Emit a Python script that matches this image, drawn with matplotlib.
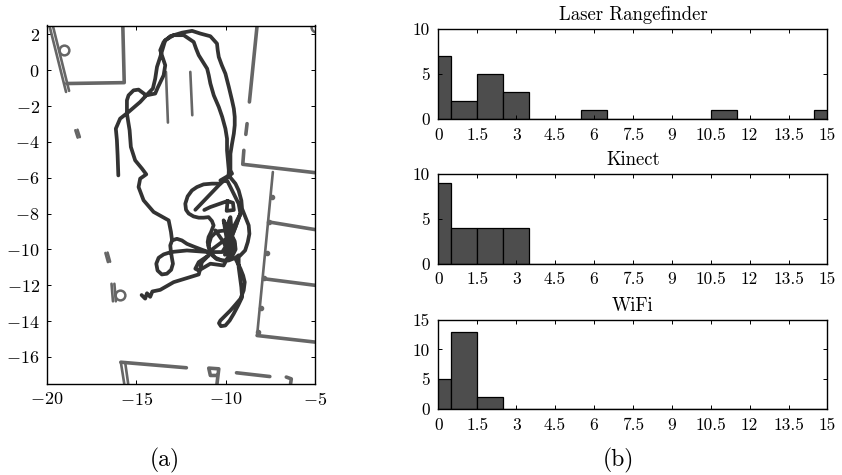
import matplotlib
matplotlib.use('Agg')
import matplotlib.pyplot as plt

plt.rcParams['font.family'] = ['cmr10', 'DejaVu Serif']
plt.rcParams['mathtext.fontset'] = 'cm'
plt.rcParams['axes.formatter.use_mathtext'] = True
plt.rcParams['axes.unicode_minus'] = False

# histogram counts, bins centred on 0..15
bins = list(range(16))
laser = [7, 2, 5, 3, 0, 0, 1, 0, 0, 0, 0, 1, 0, 0, 0, 1]
kinect = [9, 4, 4, 4, 0, 0, 0, 0, 0, 0, 0, 0, 0, 0, 0, 0]
wifi = [5, 13, 2, 0, 0, 0, 0, 0, 0, 0, 0, 0, 0, 0, 0, 0]
hist_ticks = [0, 1.5, 3, 4.5, 6, 7.5, 9, 10.5, 12, 13.5, 15]
hist_labels = ['0', '1.5', '3', '4.5', '6', '7.5', '9', '10.5', '12', '13.5', '15']

# robot track
track = [(-16.0, -5.87), (-16.02, -5.3), (-16.04, -4.75), (-16.08, -3.9), (-16.14, -3.26), (-15.9, -2.7),
         (-15.43, -2.33), (-14.78, -1.77), (-14.44, -1.4), (-13.94, -1.3), (-13.8, -0.97),
         (-13.47, -0.28), (-13.38, 0.28), (-13.66, 1.12), (-13.47, 1.58), (-13.1, 1.9),
         (-12.44, 2.1), (-11.88, 2.2), (-11.42, 2.05), (-10.86, 1.9), (-10.49, 1.49),
         (-10.45, 1.12), (-10.39, 0.74), (-10.22, 0.28), (-10.02, -0.19), (-9.83, -0.93),
         (-9.65, -1.68), (-9.55, -2.14), (-9.5, -2.6), (-9.5, -3.07), (-9.55, -3.54),
         (-9.65, -4.1), (-9.74, -4.66), (-9.74, -5.59), (-9.65, -5.77), (-10.3, -6.15),
         (-9.9, -6.2), (-9.56, -6.89), (-9.28, -7.45), (-9.18, -8.01), (-9.33, -8.38), (-9.46, -8.76),
         (-9.65, -9.22), (-9.84, -9.59), (-10.2, -10.15), (-10.96, -10.15), (-9.84, -9.31),
         (-9.74, -10.43), (-9.46, -10.52), (-9.18, -11.08), (-9.03, -11.46), (-8.94, -11.83),
         (-9.0, -12.29), (-9.18, -12.76), (-9.46, -13.09), (-9.74, -13.41), (-10.02, -13.69),
         (-10.3, -13.97), (-10.38, -14.12), (-10.27, -14.29), (-10.02, -14.25), (-9.78, -13.97),
         (-9.56, -13.6), (-9.31, -13.13), (-9.09, -12.67), (-9.13, -12.11), (-9.18, -11.73),
         (-9.28, -10.99), (-9.28, -10.43), (-8.92, -10.06), (-8.77, -9.59), (-8.68, -9.13),
         (-8.72, -8.66), (-8.9, -8.2), (-9.09, -7.73), (-9.13, -7.27), (-9.28, -6.71),
         (-9.46, -6.33), (-9.84, -5.87), (-9.83, -5.59),
         (-9.93, -4.47), (-9.93, -3.82), (-10.02, -3.26), (-10.2, -2.6), (-10.39, -2.05),
         (-10.67, -1.4), (-10.86, -0.74), (-10.95, -0.28), (-11.04, 0.09), (-11.27, 0.46),
         (-11.51, 0.84), (-11.66, 1.21), (-11.79, 1.58), (-12.35, 1.96), (-12.91, 1.96),
         (-13.38, 1.68), (-13.66, 0.74), (-13.84, 0.19), (-13.94, -0.47), (-14.07, -1.02),
         (-14.44, -1.4), (-14.87, -1.08), (-15.15, -1.12), (-15.43, -1.4), (-15.52, -1.68),
         (-15.52, -2.42), (-15.37, -3.35), (-15.3, -4.28), (-15.06, -5.03), (-14.68, -5.49),
         (-14.44, -5.81), (-14.78, -6.05), (-14.87, -6.52), (-14.59, -7.26), (-14.03, -7.91),
         (-13.19, -8.38), (-13.06, -9.03), (-13.0, -9.5), (-12.73, -9.41), (-12.45, -9.5),
         (-12.17, -9.69), (-11.8, -9.84), (-11.33, -10.02), (-10.96, -10.15), (-12.17, -10.06),
         (-13.06, -10.15), (-13.47, -10.28), (-13.75, -10.47), (-13.88, -10.8), (-13.81, -11.18),
         (-13.57, -11.4), (-13.29, -11.36), (-13.05, -11.14), (-12.95, -10.8), (-13.01, -10.47),
         (-13.06, -10.15), (-13.1, -9.78), (-13.0, -9.5)]
track2 = [(-10.3, -6.33), (-10.77, -6.33), (-11.24, -6.37), (-11.61, -6.52), (-11.89, -6.71),
          (-12.13, -7.04), (-12.26, -7.45), (-12.22, -7.79), (-12.07, -8.0), (-11.8, -8.16),
          (-11.51, -8.23), (-11.24, -8.23), (-10.96, -8.2), (-10.77, -8.42), (-10.68, -8.66),
          (-10.82, -9.03), (-10.96, -9.31), (-11.01, -9.59), (-10.96, -9.87), (-10.82, -10.21),
          (-10.58, -10.47), (-10.21, -10.62), (-9.84, -10.62), (-9.46, -10.47), (-9.28, -10.33)]
track3 = [(-11.7, -7.79), (-10.3, -6.33), (-9.9, -6.0)]
track4 = [(-11.2, -7.8), (-10.87, -7.64), (-9.9, -7.3), (-9.6, -7.4), (-9.55, -7.8), (-9.95, -7.85),
          (-9.9, -7.3)]
track5 = [(-10.96, -9.78), (-10.82, -9.31), (-10.5, -9.0), (-10.1, -8.95), (-9.7, -9.15), (-9.5, -9.55),
          (-9.45, -10.0), (-9.65, -10.4), (-10.05, -10.65), (-10.5, -10.55), (-10.85, -10.25),
          (-10.96, -9.78)]
track6 = [(-10.58, -8.94), (-10.12, -9.6), (-9.74, -10.43), (-9.9, -9.7), (-10.12, -8.38), (-9.56, -10.06),
          (-9.7, -9.4), (-9.18, -8.01), (-9.9, -9.4), (-10.05, -10.3), (-9.5, -9.7), (-9.9, -8.6), (-9.74, -8.2),
          (-9.6, -9.9), (-10.12, -10.9), (-10.86, -10.8), (-11.2, -11.0), (-11.51, -11.18), (-11.7, -11.08),
          (-11.51, -10.71), (-11.2, -10.5), (-10.96, -10.34), (-11.33, -10.71), (-11.51, -11.4),
          (-12.91, -11.83), (-13.66, -12.26), (-14.1, -12.35), (-14.22, -12.65), (-14.4, -12.45),
          (-14.5, -12.75), (-14.7, -12.55)]

# walls, thick ones then thin ones
wall_a = [(-18.88, -0.74), (-15.67, -0.69), (-15.75, 2.5)]
wall_b = [(-8.25, 2.5), (-8.68, -1.77)]
wall_c = [(-8.81, -2.98), (-8.88, -3.58)]
wall_d = [(-8.99, -4.47), (-9.05, -5.25), (-4.98, -5.72)]
wall_e = [(-7.59, -8.47), (-4.98, -8.9)]
wall_f = [(-7.87, -11.64), (-4.98, -12.01)]
wall_g = [(-8.25, -14.81), (-4.98, -15.18)]
wall_h = [(-15.86, -16.3), (-12.2, -16.61)]
wall_i = [(-10.49, -17.5), (-10.39, -16.67), (-10.95, -16.63), (-10.86, -17.04), (-10.49, -17.04)]
wall_j = [(-9.4, -16.89), (-7.54, -17.1)]
wall_k = [(-6.62, -17.13), (-6.34, -17.23), (-6.38, -17.5)]
thick_walls = [wall_a, wall_b, wall_c, wall_d, wall_e, wall_f, wall_g, wall_h, wall_i, wall_j, wall_k]

thin_a = [(-19.85, 2.5), (-18.92, -1.21)]
thin_b = [(-19.66, 2.5), (-18.75, -1.15)]
thin_c = [(-13.34, -0.09), (-13.23, -2.92)]
thin_d = [(-11.98, -0.09), (-11.87, -2.51)]
thin_e = [(-7.37, -5.68), (-8.25, -14.8)]
thin_f = [(-18.4, -3.35), (-18.27, -3.76)]
thin_g = [(-18.28, -3.32), (-18.15, -3.73)]
thin_h = [(-16.72, -10.2), (-16.58, -10.71)]
thin_i = [(-16.6, -10.18), (-16.46, -10.69)]
thin_j = [(-16.38, -11.92), (-16.3, -12.9)]
thin_k = [(-16.22, -11.92), (-16.14, -12.9)]
thin_l = [(-15.67, -17.5), (-15.86, -16.3)]
thin_m = [(-15.45, -17.5), (-15.62, -16.3)]
thin_walls = [thin_a, thin_b, thin_c, thin_d, thin_e, thin_f, thin_g, thin_h, thin_i, thin_j, thin_k, thin_l, thin_m]

ring_x = [-19.03, -15.9, -4.98]
ring_y = [1.12, -12.57, 2.42]
bump_x = [-7.41, -7.72, -7.6, -7.87, -8.06, -8.2]
bump_y = [-7.08, -10.2, -8.47, -11.6, -13.3, -14.6]

W, H = 842, 475


def place(left, top, right, bottom):
    return fig.add_axes([left / W, 1 - bottom / H, (right - left) / W, (bottom - top) / H])


fig = plt.figure(figsize=(W / 100, H / 100), dpi=100)
grey = '#666666'
dark = '#333333'

ax = place(46.7, 25.5, 315.3, 383.7)
for w in thick_walls:
    ax.plot([p[0] for p in w], [p[1] for p in w], color=grey, lw=2.6, solid_capstyle='round')
for w in thin_walls:
    ax.plot([p[0] for p in w], [p[1] for p in w], color=grey, lw=1.9, solid_capstyle='round')
ax.plot(ring_x, ring_y, 'o', ms=7, mfc='none', mec=grey, mew=1.8, ls='none')
ax.plot(bump_x, bump_y, 'o', ms=3, color=grey, ls='none')
for t in [track, track2, track3, track4, track5, track6]:
    ax.plot([p[0] for p in t], [p[1] for p in t], color=dark, lw=2.7,
            solid_joinstyle='round', solid_capstyle='round')
ax.set_xlim(-20, -5)
ax.set_ylim(-17.5, 2.5)
ax.set_xticks([-20, -15, -10, -5])
ax.set_xticklabels(['$-20$', '$-15$', '$-10$', '$-5$'])
ax.set_yticks([2, 0, -2, -4, -6, -8, -10, -12, -14, -16])
ax.set_yticklabels(['$2$', '$0$', '$-2$', '$-4$', '$-6$', '$-8$', '$-10$', '$-12$', '$-14$', '$-16$'])
ax.tick_params(direction='in', top=True, right=True, length=3, width=0.7, labelsize=13, pad=5)
for s in ax.spines.values():
    s.set_linewidth(1.0)

panels = [(29.3, 119, laser, 'Laser Rangefinder', [0, 5, 10]),
          (174.3, 263.7, kinect, 'Kinect', [0, 5, 10]),
          (319.7, 409, wifi, 'WiFi', [0, 5, 10, 15])]
for top, bottom, counts, name, yt in panels:
    a = place(438.4, top, 827.4, bottom)
    a.bar(bins, counts, width=1, color='#4d4d4d', edgecolor='black', linewidth=0.9)
    a.set_xlim(0, 15)
    a.set_ylim(0, yt[-1])
    a.set_xticks(hist_ticks)
    a.set_xticklabels(hist_labels)
    a.set_yticks(yt)
    a.set_yticklabels([str(v) for v in yt])
    a.tick_params(direction='in', top=True, right=True, length=3, width=0.7, labelsize=12.5, pad=6)
    a.set_title(name, fontsize=13.5, pad=6.5)
    for s in a.spines.values():
        s.set_linewidth(1.0)

fig.text(165 / W, 1 - 460 / H, '(a)', fontsize=17, ha='center', va='center')
fig.text(618 / W, 1 - 460 / H, '(b)', fontsize=17, ha='center', va='center')

fig.savefig('out.png', dpi=100)
